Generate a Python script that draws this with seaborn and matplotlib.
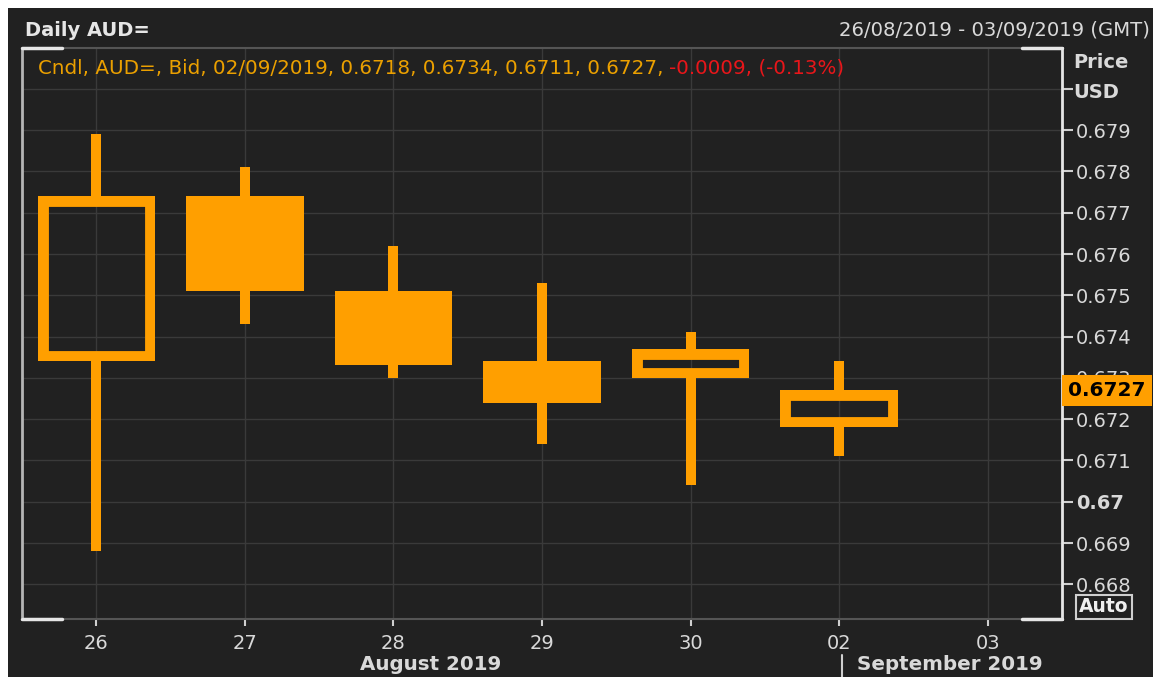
import matplotlib
matplotlib.use("Agg")
import matplotlib.pyplot as plt
import matplotlib.transforms as mtransforms
import seaborn as sns

# daily AUD= bid candles, 26/08/2019 - 02/09/2019
days = ["26", "27", "28", "29", "30", "02", "03"]
open_px = [0.6734, 0.6774, 0.6751, 0.6734, 0.6730, 0.6718]
high_px = [0.6789, 0.6781, 0.6762, 0.6753, 0.6741, 0.6734]
low_px = [0.6688, 0.6743, 0.6730, 0.6714, 0.6704, 0.6711]
close_px = [0.6774, 0.6751, 0.6733, 0.6724, 0.6737, 0.6727]

price_ticks = [0.668, 0.669, 0.670, 0.671, 0.672, 0.673,
               0.674, 0.675, 0.676, 0.677, 0.678, 0.679, 0.680]
price_labels = ["0.668", "0.669", "0.67", "0.671", "0.672", "0.673",
                "0.674", "0.675", "0.676", "0.677", "0.678", "0.679", ""]
last_price = 0.6727

title = "Daily AUD="
date_range = "26/08/2019 - 03/09/2019 (GMT)"
legend_main = "Cndl, AUD=, Bid, 02/09/2019, 0.6718, 0.6734, 0.6711, 0.6727, "
legend_chg = "-0.0009, (-0.13%)"
months = ["August 2019", "September 2019"]

BG = "#212121"
ORANGE = "#ff9f00"
TXT = "#d9d9d9"
GRID = "#3a3a3a"
W, H = 1158, 677

sns.set_theme(style="dark", rc={
    "axes.facecolor": BG,
    "figure.facecolor": "white",
    "axes.grid": True,
    "grid.color": GRID,
    "grid.linewidth": 1.0,
    "text.color": TXT,
})
plt.rcParams["font.family"] = ["DejaVu Sans"]

fig = plt.figure(figsize=(W / 100, H / 100), dpi=100)
fig.patches.append(plt.Rectangle((8 / W, 0), (1153 - 8) / W, (H - 8) / H,
                                 transform=fig.transFigure, facecolor=BG,
                                 edgecolor="none", zorder=-10))
ax = fig.add_axes([22 / W, 1 - 619 / H, (1062 - 22) / W, (619 - 48) / H])

n = len(open_px)
xs = list(range(n))
up = [c >= o for o, c in zip(open_px, close_px)]
body_lo = [min(o, c) for o, c in zip(open_px, close_px)]
body_hi = [max(o, c) for o, c in zip(open_px, close_px)]
body_h = [h - l for h, l in zip(body_hi, body_lo)]

# wicks, split so they do not show inside hollow bodies
ax.vlines(xs, body_hi, high_px, color=ORANGE, linewidth=7.2, zorder=3)
ax.vlines(xs, low_px, body_lo, color=ORANGE, linewidth=7.2, zorder=3)

for i in xs:
    if up[i]:
        bars = ax.bar(i, body_h[i], bottom=body_lo[i], width=0.79,
                      facecolor="none", edgecolor=ORANGE, linewidth=15,
                      zorder=4)
        # keep the stroke inside the body outline
        for p in bars:
            p.set_clip_path(p)
    else:
        ax.bar(i, body_h[i], bottom=body_lo[i], width=0.79,
               facecolor=ORANGE, edgecolor="none", zorder=4)

ax.set_xlim(-0.5, len(days) - 0.5)
ax.set_ylim(0.66716, 0.68099)
ax.set_xticks(range(len(days)))
ax.set_xticklabels(days)
ax.set_yticks(price_ticks)
ax.set_yticklabels(price_labels)
ax.yaxis.tick_right()
ax.grid(True, color=GRID, linewidth=1.0)
ax.tick_params(axis="x", bottom=True, direction="out", length=5, width=1.5,
               color="#cfcfcf", pad=6, labelcolor=TXT, labelsize=14)
ax.tick_params(axis="y", right=True, left=False, direction="out", length=8,
               width=1.5, color="#cfcfcf", pad=2, labelcolor=TXT, labelsize=14)
for lab in ax.get_yticklabels():
    if lab.get_text() == "0.67":
        lab.set_fontweight("bold")

for side in ["top", "bottom"]:
    ax.spines[side].set_color("#555555")
    ax.spines[side].set_linewidth(1.5)
ax.spines["left"].set_color("#b5b5b5")
ax.spines["left"].set_linewidth(2)
ax.spines["right"].set_color("#e6e6e6")
ax.spines["right"].set_linewidth(2)

# white corner brackets
cx = 40 / 1040
for x0, x1 in [(0, cx), (1 - cx, 1)]:
    for y in [0, 1]:
        ax.plot([x0, x1], [y, y], color="#e6e6e6", linewidth=2.5,
                transform=ax.transAxes, clip_on=False, zorder=6)

# header
fig.text(25 / W, 1 - 30 / H, title, fontsize=14, fontweight="bold",
         color="#e6e6e6", va="center", ha="left")
fig.text(1150 / W, 1 - 30 / H, date_range, fontsize=14.1, color=TXT,
         va="center", ha="right")
t1 = ax.text(0.015, 1 - (68 - 48) / (619 - 48), legend_main, fontsize=14.3,
             color="#eba000", va="center", ha="left", transform=ax.transAxes)
ax.annotate(legend_chg, xy=(1, 0.5), xycoords=t1, va="center", ha="left",
            fontsize=14.3, color="#e8161a")

# right axis labels
fig.text(1073 / W, 1 - 62 / H, "Price", fontsize=14, fontweight="bold",
         color=TXT, va="center", ha="left")
fig.text(1073 / W, 1 - 92 / H, "USD", fontsize=14, fontweight="bold",
         color=TXT, va="center", ha="left")

yblend = mtransforms.blended_transform_factory(ax.transAxes, ax.transData)
ax.text(1.006, last_price, f"{last_price:.4f}", transform=yblend,
        fontsize=14.5, fontweight="bold", color="black", va="center",
        ha="left", zorder=10, clip_on=False,
        bbox=dict(boxstyle="square,pad=0.3", facecolor=ORANGE,
                  edgecolor="none"))

fig.text(1104 / W, 1 - 607 / H, "Auto", fontsize=13.5, fontweight="bold",
         color="#eeeeee", va="center", ha="center",
         bbox=dict(boxstyle="square,pad=0.15", facecolor="none",
                   edgecolor="#cfcfcf", linewidth=1.5))

# month labels below the day ticks
xblend = mtransforms.blended_transform_factory(ax.transData, fig.transFigure)
ax.text(2.25, 1 - 665 / H, months[0], transform=xblend, fontsize=14.3,
        fontweight="bold", color=TXT, ha="center", va="center")
ax.text(5.12, 1 - 665 / H, months[1], transform=xblend, fontsize=14.3,
        fontweight="bold", color=TXT, ha="left", va="center")
ax.plot([5.02, 5.02], [1 - 655 / H, 0], transform=xblend, color="#cfcfcf",
        linewidth=1.5, clip_on=False)

fig.savefig("out.png", dpi=100, facecolor=fig.get_facecolor())
